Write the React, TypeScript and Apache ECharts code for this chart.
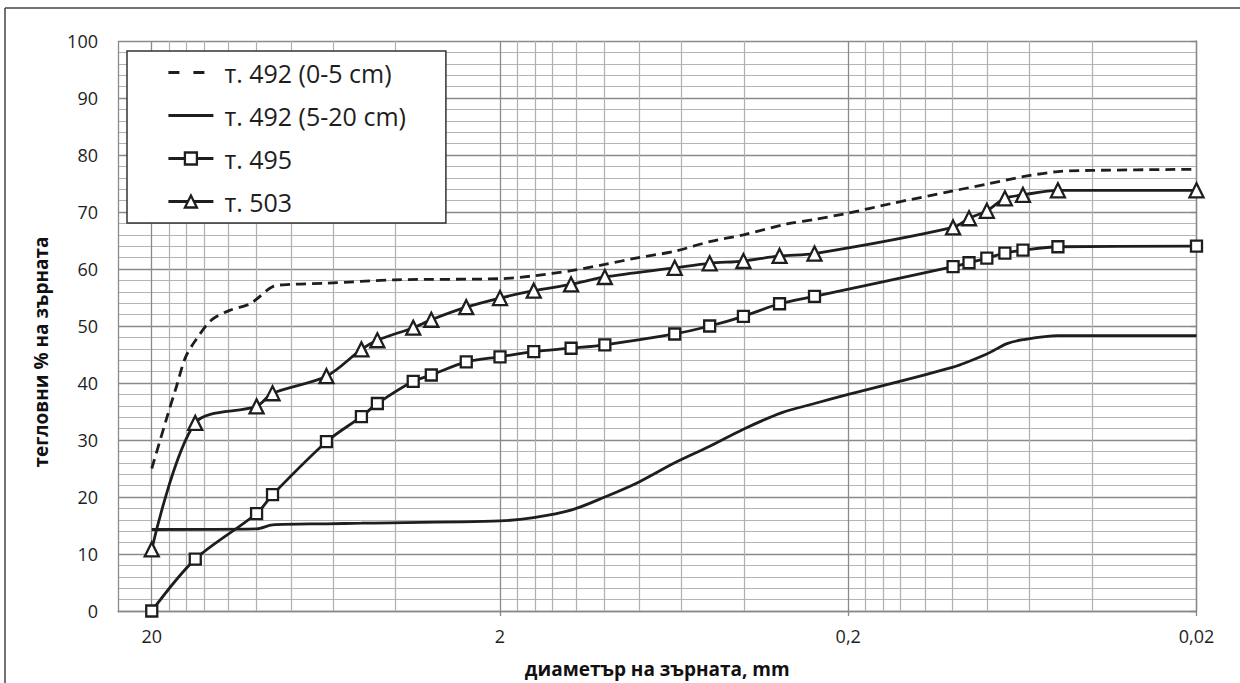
import React, { useEffect, useRef } from "react";
import * as echarts from "echarts";

// grain diameters (mm) for samples т. 495 and т. 503
const sieveD = [20, 15, 10, 9, 6.3, 5, 4.5, 3.55, 3.15, 2.5, 2, 1.6, 1.25, 1, 0.63, 0.5, 0.4, 0.315, 0.25, 0.1, 0.09, 0.08, 0.071, 0.063, 0.05, 0.02];
const y495 = [0, 9.1, 17.1, 20.4, 29.7, 34.1, 36.4, 40.3, 41.4, 43.7, 44.6, 45.5, 46.1, 46.7, 48.6, 50.0, 51.7, 53.9, 55.2, 60.4, 61.1, 61.9, 62.8, 63.3, 63.9, 64.0];
const y503 = [10.8, 33.0, 35.9, 38.2, 41.2, 45.9, 47.5, 49.7, 51.1, 53.3, 54.9, 56.2, 57.3, 58.6, 60.2, 61.0, 61.4, 62.3, 62.7, 67.3, 68.9, 70.2, 72.4, 73.0, 73.8, 73.8];

// т. 492 (0-5 cm)
const dA = [20, 18, 17, 16, 15, 13.5, 12, 10.5, 10, 9, 8, 6.3, 4, 2, 1.6, 1.25, 1, 0.8, 0.63, 0.5, 0.4, 0.3, 0.25, 0.2, 0.15, 0.1, 0.08, 0.063, 0.05, 0.04, 0.02];
const yA = [25, 34.4, 39.3, 44.5, 47.4, 51.0, 52.7, 53.8, 54.7, 56.9, 57.3, 57.5, 58.1, 58.3, 58.8, 59.7, 60.8, 62.0, 63.1, 64.8, 66.0, 67.9, 68.7, 69.8, 71.5, 73.7, 74.9, 76.2, 77.1, 77.3, 77.5];

// т. 492 (5-20 cm)
const dB = [20, 10, 9, 6.3, 5, 2, 1.6, 1.25, 1, 0.8, 0.63, 0.5, 0.4, 0.31, 0.25, 0.2, 0.1, 0.08, 0.07, 0.063, 0.05, 0.02];
const yB = [14.3, 14.4, 15.1, 15.3, 15.4, 15.8, 16.4, 17.7, 20.0, 22.6, 26.0, 28.9, 31.9, 34.8, 36.4, 38.0, 42.8, 45.1, 46.9, 47.6, 48.3, 48.3];

const seriesNames = ["т. 492 (0-5 cm)", "т. 492 (5-20 cm)", "т. 495", "т. 503"];
const xTickLabels = ["0,02", "0,2", "2", "20"];
const xTitle = "диаметър на зърната, mm";
const yTitle = "тегловни % на зърната";
const minorGridD = [
  0.04, 0.06, 0.08, 0.1, 0.12, 0.14, 0.16, 0.18,
  0.4, 0.6, 0.8, 1, 1.2, 1.4, 1.6, 1.8,
  4, 6, 8, 10, 12, 14, 16, 18,
];

const D_MIN = 0.02;
const D_MAX = 25;
const tx = (d: number) => Math.log10(d / D_MIN);
const pairs = (ds: number[], ys: number[]) => ds.map((d, i) => [tx(d), ys[i]]);

const FONT = "'Open Sans', 'Noto Sans', sans-serif";
const INK = "#1e1e1e";
const LW = 2.8;

export default function App() {
  const ref = useRef<HTMLDivElement>(null);
  useEffect(() => {
    if (!ref.current) return;
    const chart = echarts.init(ref.current, undefined, { renderer: "svg" });
    const lineBase = { type: "line", smooth: 0.3, z: 3, lineStyle: { color: INK, width: LW }, itemStyle: { color: "#fff", borderColor: INK, borderWidth: 2.3 }, emphasis: { disabled: true } };
    chart.setOption({
      animation: false,
      textStyle: { fontFamily: FONT },
      grid: { left: 118, right: 43.5, top: 41, bottom: 66, containLabel: false },
      legend: {
        orient: "vertical",
        left: 127,
        top: 51,
        padding: [9, 40, 9, 40],
        itemGap: 18,
        itemWidth: 45,
        itemHeight: 15,
        backgroundColor: "#fff",
        borderColor: "#333",
        borderWidth: 1.5,
        borderRadius: 0,
        lineStyle: { width: LW, color: INK },
        itemStyle: { color: "#fff", borderColor: INK, borderWidth: 2.3 },
        textStyle: { fontSize: 25, lineHeight: 24, color: INK, fontFamily: FONT, padding: [0, 0, 0, 6] },
        data: [
          { name: seriesNames[0], itemStyle: { opacity: 0 }, lineStyle: { type: [11, 14], width: LW, color: INK } },
          { name: seriesNames[1], itemStyle: { opacity: 0 }, lineStyle: { type: "solid", width: LW, color: INK } },
          { name: seriesNames[2] },
          { name: seriesNames[3] },
        ],
      },
      xAxis: {
        type: "value",
        inverse: true,
        min: 0,
        max: tx(D_MAX),
        interval: 1,
        name: xTitle,
        nameLocation: "middle",
        nameGap: 48,
        nameTextStyle: { fontSize: 19, fontWeight: "bold", color: "#111", fontFamily: FONT },
        axisLine: { show: true, lineStyle: { color: "#888", width: 1.3 } },
        axisTick: { show: true, length: 5, lineStyle: { color: "#888", width: 1.3 } },
        axisLabel: {
          fontSize: 18,
          color: INK,
          margin: 16,
          fontFamily: FONT,
          showMaxLabel: false,
          formatter: (v: number) => {
            const r = Math.round(v);
            return Math.abs(v - r) < 1e-6 && r >= 0 && r < xTickLabels.length ? xTickLabels[r] : "";
          },
        },
        splitLine: { show: true, lineStyle: { color: "#8a8a8a", width: 1.3 } },
      },
      yAxis: {
        type: "value",
        min: 0,
        max: 100,
        interval: 10,
        axisLine: { show: true, lineStyle: { color: "#888", width: 1.3 } },
        axisTick: { show: true, length: 6, lineStyle: { color: "#888", width: 1.3 } },
        axisLabel: { fontSize: 18, color: INK, margin: 20, fontFamily: FONT },
        splitLine: { show: true, lineStyle: { color: "#8a8a8a", width: 1.3 } },
        minorTick: { show: false, splitNumber: 5 },
        minorSplitLine: { show: true, lineStyle: { color: "#b4b4b4", width: 1.2 } },
      },
      series: [
        {
          ...lineBase,
          name: seriesNames[0],
          symbol: "none",
          lineStyle: { color: INK, width: LW, type: [10, 6] },
          data: pairs(dA, yA),
          markLine: {
            silent: true,
            z: 1,
            symbol: "none",
            label: { show: false },
            emphasis: { disabled: true },
            lineStyle: { color: "#b0b0b0", width: 1.2, type: "solid" },
            data: minorGridD.map((d) => ({ xAxis: tx(d) })),
          },
        },
        { ...lineBase, name: seriesNames[1], symbol: "none", data: pairs(dB, yB) },
        { ...lineBase, name: seriesNames[2], symbol: "rect", symbolSize: 11, data: pairs(sieveD, y495) },
        { ...lineBase, name: seriesNames[3], symbol: "triangle", symbolSize: 14, data: pairs(sieveD, y503) },
      ],
      graphic: [
        { type: "line", shape: { x1: 5, y1: 8, x2: 5, y2: 700 }, style: { stroke: "#444", lineWidth: 1.5 }, silent: true },
        { type: "line", shape: { x1: 5, y1: 8, x2: 1240, y2: 8 }, style: { stroke: "#444", lineWidth: 1.5 }, silent: true },
        {
          type: "text",
          x: 41,
          y: 352,
          rotation: Math.PI / 2,
          silent: true,
          style: { text: yTitle, fontSize: 19, fontWeight: "bold", fill: "#111", fontFamily: FONT, align: "center", verticalAlign: "middle" },
        },
      ],
    });
    return () => chart.dispose();
  }, []);
  return <div ref={ref} style={{ position: "fixed", left: 0, top: 0, width: 1240, height: 683, background: "#fff" }} />;
}
